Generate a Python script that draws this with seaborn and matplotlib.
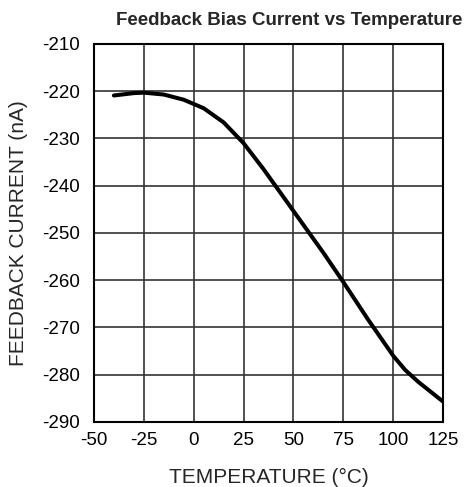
import pandas as pd
import matplotlib.pyplot as plt
import seaborn as sns

# datos
temperature = [-40, -30, -25, -15, -5, 5, 15, 25, 35, 45, 55, 65, 75,
               87.5, 100, 106, 112.5, 125]
feedback_current = [-220.9, -220.4, -220.3, -220.7, -221.8, -223.6, -226.6, -231.0,
                    -236.5, -242.4, -248.3, -254.2, -260.4,
                    -268.4, -276.0, -279.0, -281.5, -285.7]

df = pd.DataFrame({'Temp': temperature, 'Ifb': feedback_current})

sns.set_style('white')
plt.rcParams['font.family'] = ['Liberation Sans', 'DejaVu Sans']
plt.rcParams['axes.unicode_minus'] = False

fig = plt.figure(figsize=(4.65, 4.87), dpi=100)
ax = fig.add_axes([0.202, 0.1335, 0.751, 0.7762])

sns.lineplot(data=df, x='Temp', y='Ifb', color='black', linewidth=2.9, ax=ax)

ax.set_xlim(-50, 125)
ax.set_ylim(-290, -210)
ax.set_xticks(range(-50, 126, 25))
ax.set_yticks(range(-290, -209, 10))
ax.grid(True, color='#333333', linewidth=1.2)
for s in ax.spines.values():
    s.set_color('black')
    s.set_linewidth(1.5)
ax.tick_params(length=0, labelsize=13.5, colors='black')
ax.tick_params(axis='x', pad=7)
ax.tick_params(axis='y', pad=10)

fig.text(0.621, 0.958, 'Feedback Bias Current vs Temperature', fontsize=13.5,
         fontweight='bold', ha='center', va='center')
ax.set_xlabel('TEMPERATURE (\u00b0C)', fontsize=15, labelpad=14)
ax.set_ylabel('FEEDBACK CURRENT (nA)', fontsize=15, labelpad=10)

plt.savefig('out.png', dpi=100)
